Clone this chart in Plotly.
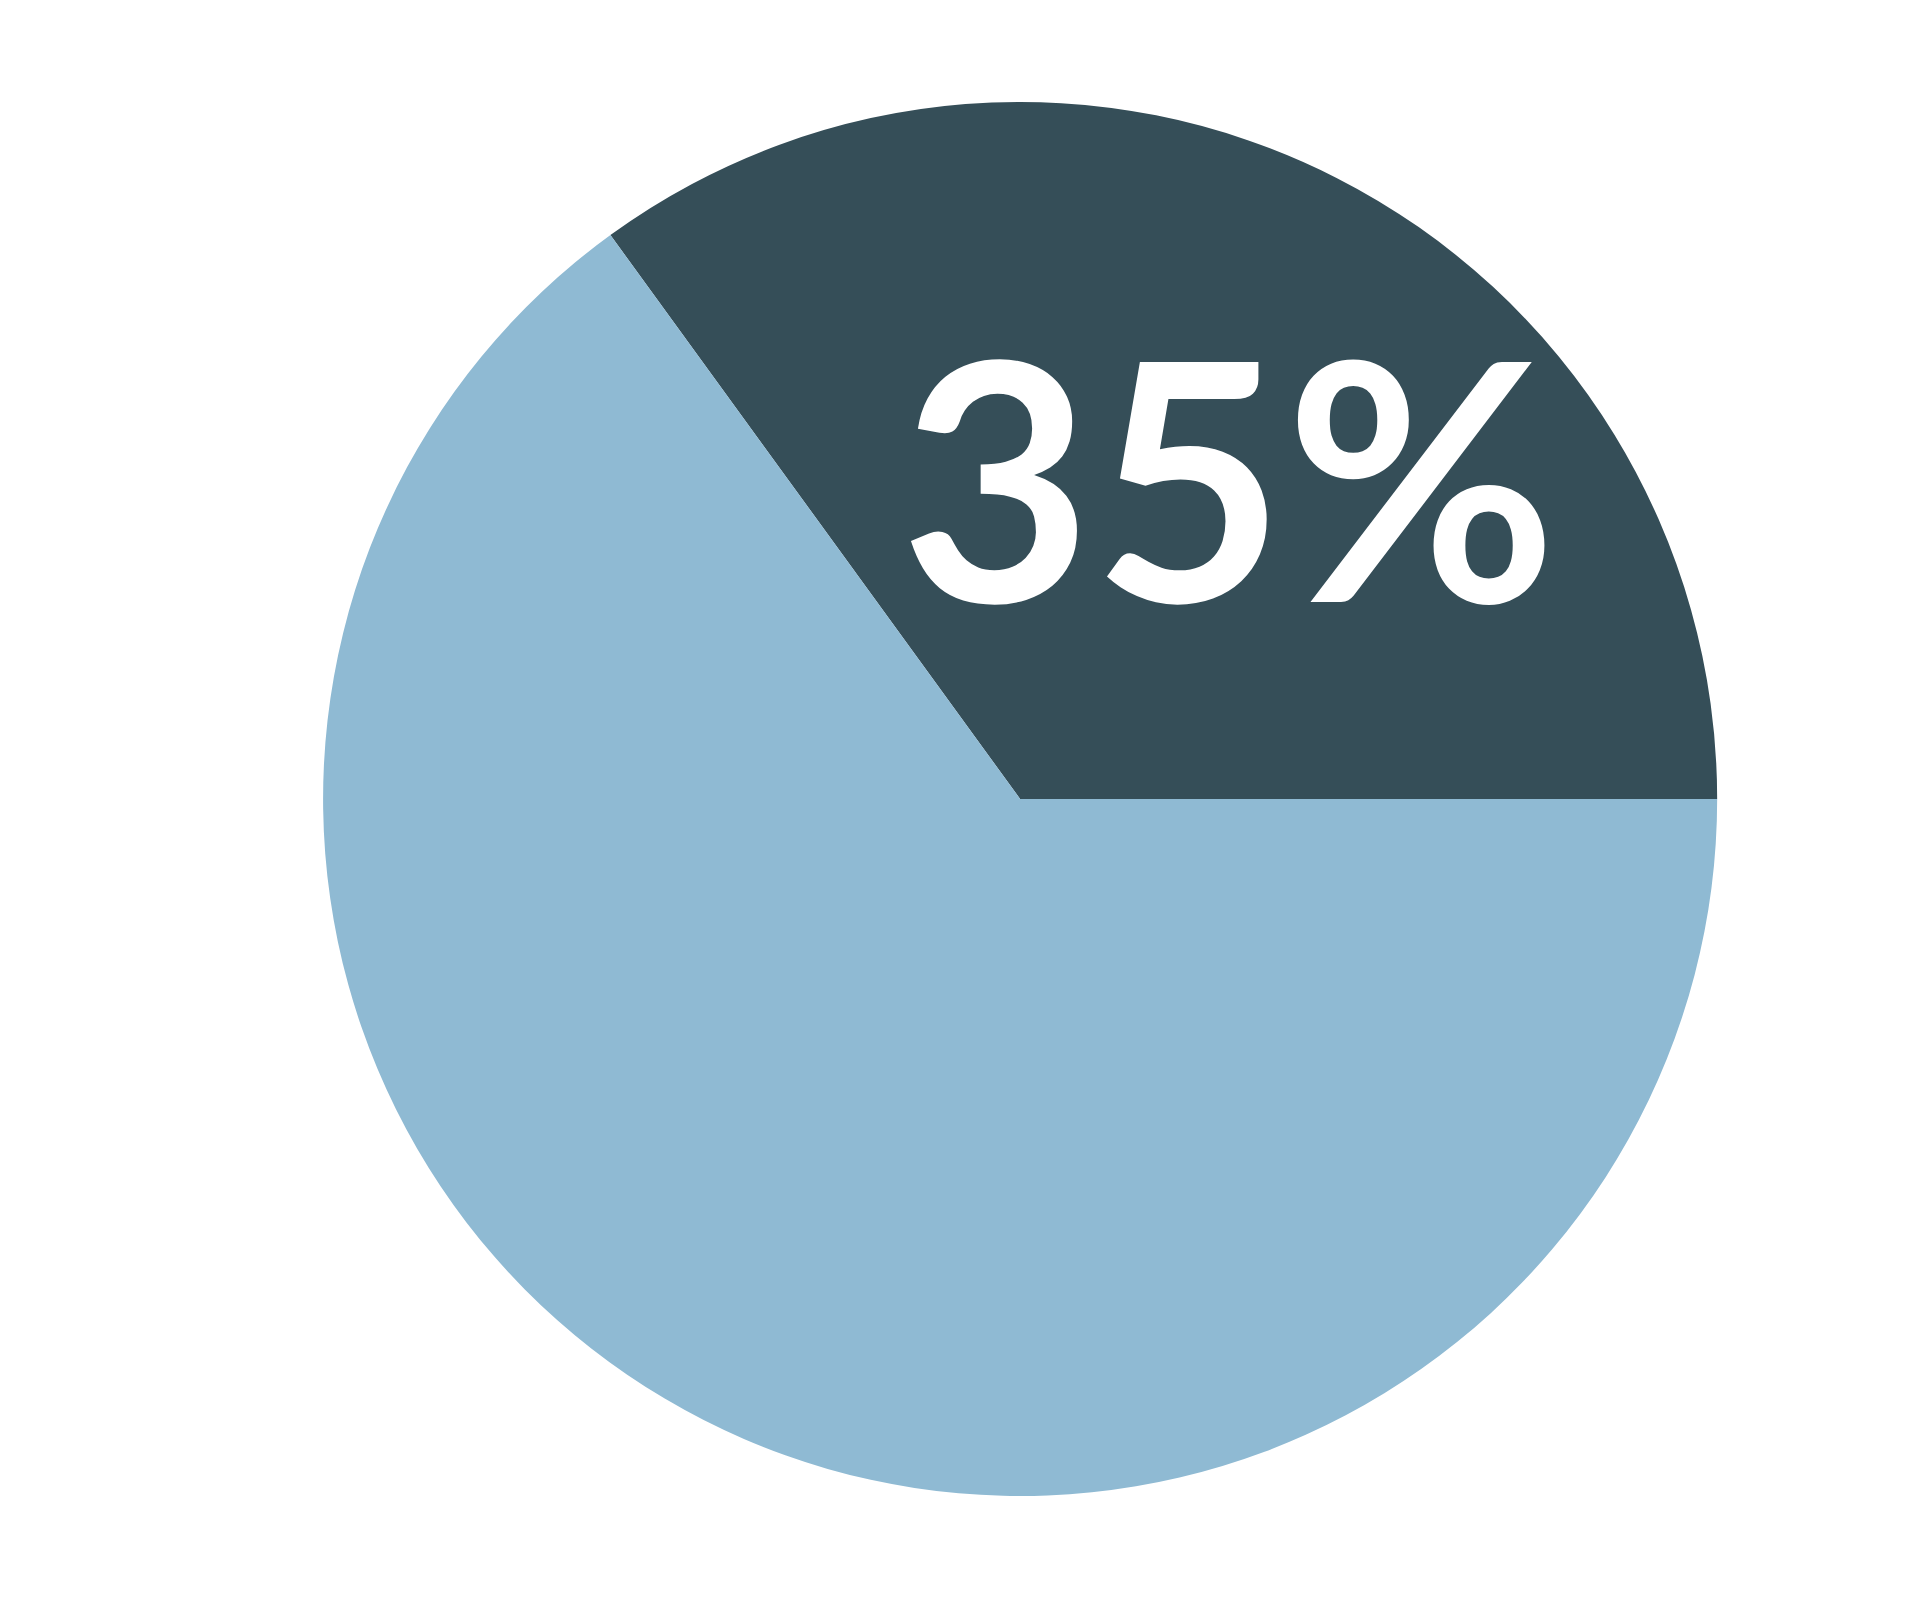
import plotly.graph_objects as go

labels = ['Share', 'Rest']
values = [35, 65]
colors = ['#354e58', '#8fbad3']
center_text = '35%'

fig = go.Figure()
fig.add_trace(go.Pie(
    labels=labels,
    values=values,
    marker=dict(colors=colors, line=dict(width=0)),
    sort=False,
    direction='clockwise',
    rotation=-36,
    textinfo='none',
    hoverinfo='label+percent',
    showlegend=False,
    domain=dict(x=[0.1641, 0.8902], y=[0.07, 0.9413]),
))

# big label sitting inside the dark slice
fig.add_annotation(
    text=center_text,
    x=0.6355, y=0.709, xref='paper', yref='paper',
    xanchor='center', yanchor='middle',
    showarrow=False,
    font=dict(family='Lato', size=332, color='white', weight=700),
)

fig.update_layout(
    width=1920, height=1600,
    margin=dict(l=0, r=0, t=0, b=0),
    paper_bgcolor='white',
    plot_bgcolor='white',
)

fig.write_html('out.html')
